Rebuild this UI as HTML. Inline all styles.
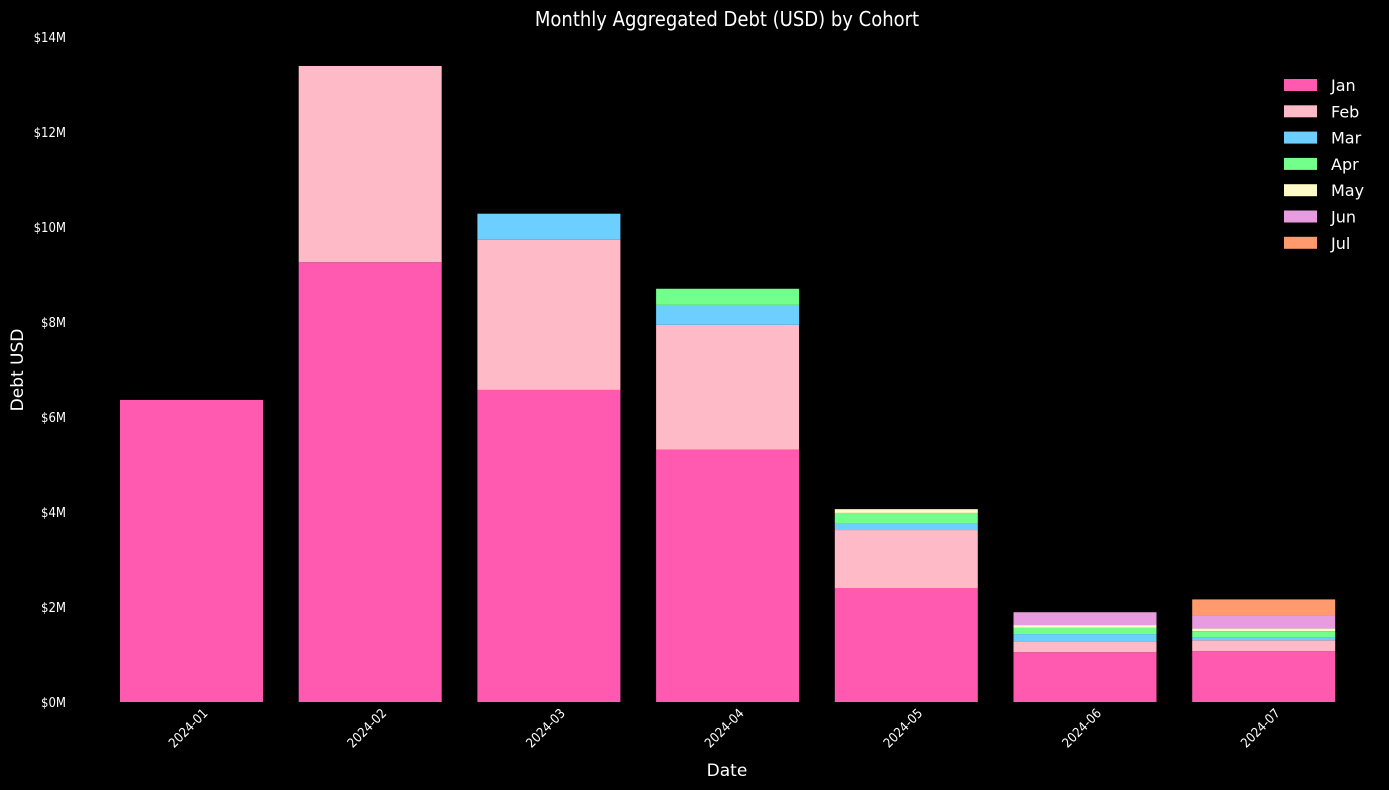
<!DOCTYPE html>
<html><head><meta charset="utf-8"><style>
html,body{margin:0;padding:0;background:#000;}
svg{display:block;font-family:"DejaVu Sans","Liberation Sans",sans-serif;}
</style></head><body>
<svg id="chart" width="1389" height="790" xmlns="http://www.w3.org/2000/svg">
<rect width="1389" height="790" fill="#000"/>
<text x="727" y="26" fill="#fff" font-size="20" text-anchor="middle" font-stretch="condensed">Monthly Aggregated Debt (USD) by Cohort</text>
<text x="727" y="776" fill="#fff" font-size="17" text-anchor="middle">Date</text>
<text transform="translate(23,370) rotate(-90)" fill="#fff" font-size="17" text-anchor="middle">Debt USD</text>
<g id="bars"></g><g id="yticks"></g><g id="xticks"></g><g id="legend"></g>
</svg>
<script>
const categories=["2024-01","2024-02","2024-03","2024-04","2024-05","2024-06","2024-07"];
const cohorts=["Jan","Feb","Mar","Apr","May","Jun","Jul"];
const colors=["#ff5ab0","#ffbac8","#6dcfff","#72ff8c","#fffac8","#e89ce0","#ff9a6e"];
const janVals=[6.36,9.26,6.57,5.31,2.40,1.05,1.07];
const febVals=[0,4.13,3.16,2.63,1.22,0.23,0.23];
const marVals=[0,0,0.55,0.42,0.13,0.15,0.06];
const aprVals=[0,0,0,0.34,0.23,0.13,0.13];
const mayVals=[0,0,0,0,0.08,0.06,0.06];
const junVals=[0,0,0,0,0,0.27,0.27];
const julVals=[0,0,0,0,0,0,0.34];
const yTicks=[0,2,4,6,8,10,12,14];
const series=[janVals,febVals,marVals,aprVals,mayVals,junVals,julVals];
const NS="http://www.w3.org/2000/svg";
const y0=702,y1=37,yMax=14;
const yScale=v=>y0-(v/yMax)*(y0-y1);
const xCenter=i=>191.5+i*178.7;
const bw=143;
const bars=document.getElementById('bars');
categories.forEach((c,i)=>{
  let acc=0;
  series.forEach((s,k)=>{
    const v=s[i]; if(v<=0) return;
    const r=document.createElementNS(NS,'rect');
    r.setAttribute('x',xCenter(i)-bw/2);
    r.setAttribute('y',yScale(acc+v));
    r.setAttribute('width',bw);
    r.setAttribute('height',yScale(acc)-yScale(acc+v));
    r.setAttribute('fill',colors[k]);
    
    
    bars.appendChild(r); acc+=v;
  });
  const t=document.createElementNS(NS,'text');
  t.setAttribute('transform','translate('+(xCenter(i)+17)+',714) rotate(-45)');
  t.setAttribute('text-anchor','end');t.setAttribute('fill','#fff');t.setAttribute('font-size','13');
  t.setAttribute('font-stretch','condensed');
  t.textContent=c;
  
  
  document.getElementById('xticks').appendChild(t);
});
yTicks.forEach(v=>{
  const t=document.createElementNS(NS,'text');
  t.setAttribute('x',66);t.setAttribute('y',yScale(v)+5);
  t.setAttribute('text-anchor','end');t.setAttribute('fill','#fff');t.setAttribute('font-size','13');
  t.setAttribute('font-stretch','condensed');
  t.textContent='$'+v+'M';
  
  
  document.getElementById('yticks').appendChild(t);
});
cohorts.forEach((c,k)=>{
  const g=document.createElementNS(NS,'g');
  
  
  const y=85+k*26.3;
  const r=document.createElementNS(NS,'rect');
  r.setAttribute('x',1284);r.setAttribute('y',y-6);r.setAttribute('width',33);r.setAttribute('height',12);
  r.setAttribute('fill',colors[k]);
  const t=document.createElementNS(NS,'text');
  t.setAttribute('x',1331);t.setAttribute('y',y+6);t.setAttribute('fill','#fff');t.setAttribute('font-size','16');
  t.textContent=c;
  g.appendChild(r);g.appendChild(t);
  document.getElementById('legend').appendChild(g);
});
</script>
</body></html>
